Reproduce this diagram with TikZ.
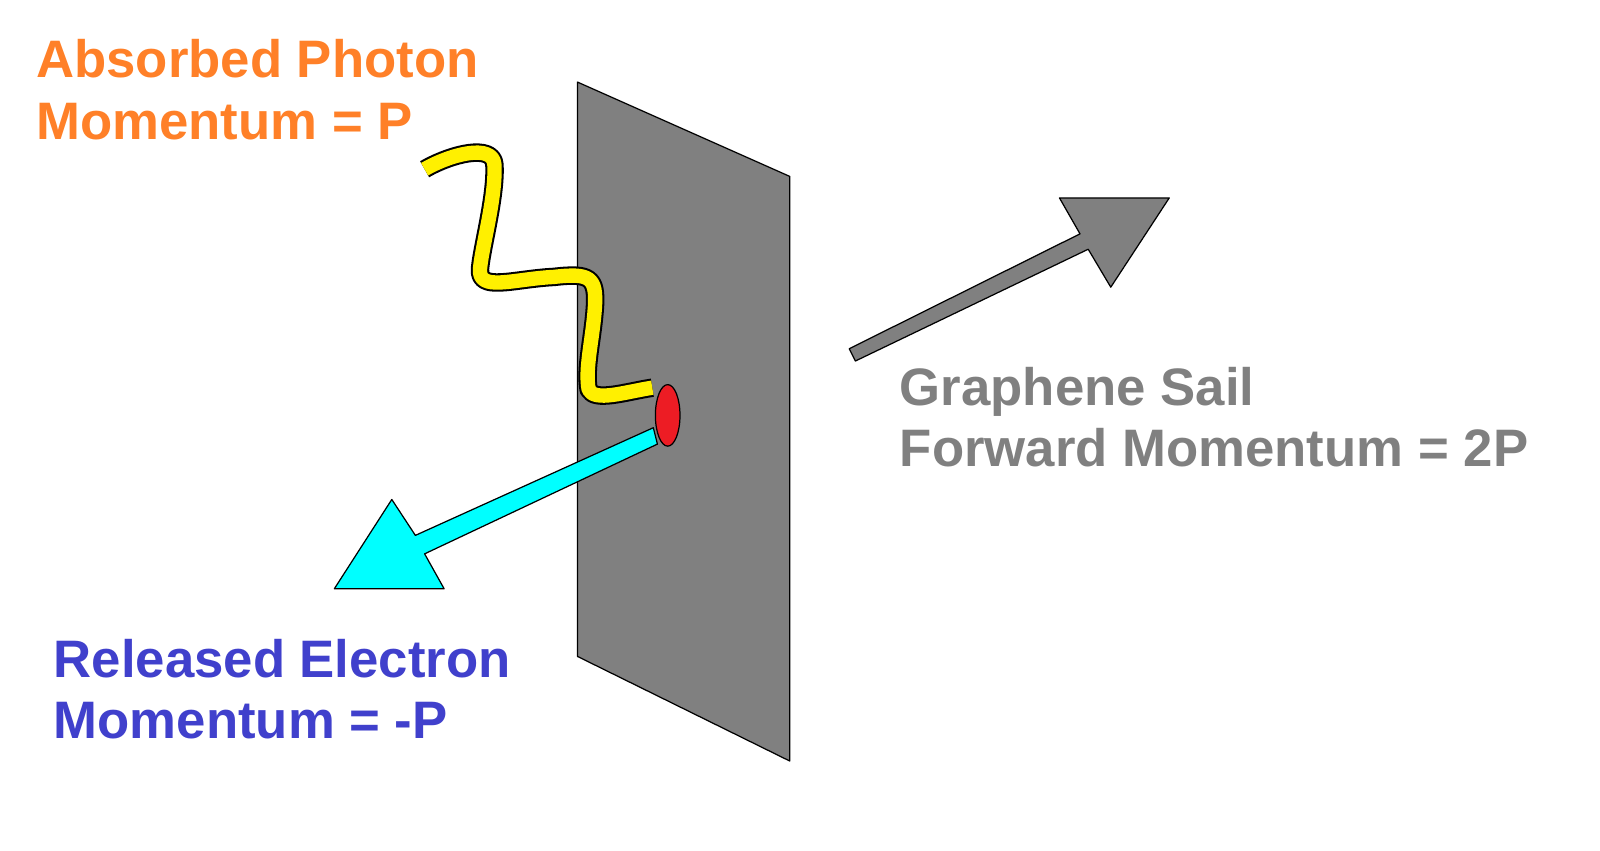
\documentclass[tikz,border=0pt]{standalone}
\usepackage{fontspec}
\setmainfont{Liberation Sans}
\definecolor{orng}{RGB}{255,128,40}
\definecolor{blu}{RGB}{64,64,204}
\definecolor{gr}{RGB}{128,128,128}
\definecolor{cy}{RGB}{0,255,255}
\definecolor{rd}{RGB}{237,28,36}
\definecolor{yl}{RGB}{255,240,0}
\tikzset{lbl/.style={anchor=base west,font=\fontsize{25.7}{30}\selectfont\bfseries,inner sep=0pt},
 solid/.style={draw=black,line width=0.6pt,line join=round}}
\begin{document}
\begin{tikzpicture}[x=0.5pt,y=-0.5pt]
\useasboundingbox (0,0) rectangle (1560,829);
\fill[white] (0,0) rectangle (1560,829);
% sail
\filldraw[solid,fill=gr] (563,80) -- (770,172) -- (770,742) -- (563,640) -- cycle;
% gray arrow
\filldraw[solid,fill=gr] (828,340) -- (1053,228) -- (1033,193) -- (1140,193) -- (1083,280) -- (1061,243) -- (834,352) -- cycle;
% photon
\draw[line width=9pt,line cap=butt,line join=round] (414,165) .. controls (440,150) and (480,140) .. (482,160) .. controls (484,190) and (470,240) .. (468,262) .. controls (466,285) and (500,272) .. (540,270) .. controls (575,266) and (582,270) .. (580,300) .. controls (578,330) and (570,360) .. (574,380) .. controls (580,392) and (610,382) .. (636,378);
\draw[line width=7pt,yl,line cap=butt,line join=round] (414,165) .. controls (440,150) and (480,140) .. (482,160) .. controls (484,190) and (470,240) .. (468,262) .. controls (466,285) and (500,272) .. (540,270) .. controls (575,266) and (582,270) .. (580,300) .. controls (578,330) and (570,360) .. (574,380) .. controls (580,392) and (610,382) .. (636,378);
% electron arrow
\filldraw[solid,fill=cy] (637,417) -- (405,522) -- (382,487) -- (326,574) -- (433,574) -- (414,540) -- (641,433) -- cycle;
\filldraw[solid,fill=rd] (651,405) ellipse [x radius=12,y radius=30];
\node[lbl,text=orng] (t1) at (35,76) {Absorbed Photon};
\node[lbl,text=orng] (t2) at (35,136) {Momentum = P};
\node[lbl,text=gr] (t3) at (877,395) {Graphene Sail};
\node[lbl,text=gr] (t4) at (877,455) {Forward Momentum = 2P};
\node[lbl,text=blu] (t5) at (52,661) {Released Electron};
\node[lbl,text=blu] (t6) at (52,720) {Momentum = -P};
\end{tikzpicture}
\end{document}
